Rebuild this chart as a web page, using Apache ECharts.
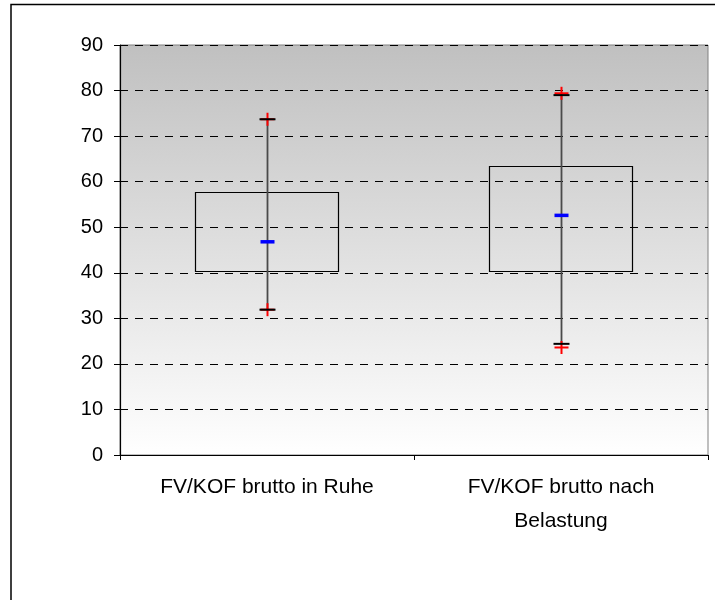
<!DOCTYPE html>
<html>
<head>
<meta charset="utf-8">
<script src="https://cdn.jsdelivr.net/npm/echarts@6/dist/echarts.min.js"></script>
<style>
  html, body { margin: 0; padding: 0; background: #fff; }
  #chart { width: 715px; height: 600px; }
</style>
</head>
<body>
<div id="chart"></div>
<script>
// Categories and summary statistics per group
const categories = ['FV/KOF brutto in Ruhe', 'FV/KOF brutto nach\nBelastung'];
const boxLow = [40.3, 40.3];
const boxHigh = [57.7, 63.4];
const whiskerLow = [31.9, 24.4];
const whiskerHigh = [73.7, 79.0];
const meanValues = [46.8, 52.6];
const minValues = [31.9, 23.6];
const maxValues = [73.7, 79.4];
const yTicks = [0, 10, 20, 30, 40, 50, 60, 70, 80, 90];

const chart = echarts.init(document.getElementById('chart'), null, { renderer: 'canvas' });

const FONT = '"Liberation Sans", Arial, sans-serif';

function idx(arr) { return arr.map((v, i) => [i, v]); }
function rangeData(lo, hi) { return lo.map((v, i) => [i, v, hi[i]]); }

// Rectangle between the two box values
function renderBox(params, api) {
  const i = api.value(0);
  const top = api.coord([i, api.value(2)]);
  const bottom = api.coord([i, api.value(1)]);
  const w = api.size([1, 0])[0] * 0.487;
  return {
    type: 'rect',
    shape: { x: Math.round(top[0] - w / 2) + 0.5, y: Math.round(top[1]) + 0.5, width: Math.round(w), height: Math.round(bottom[1] - top[1]) },
    style: { fill: 'rgba(0,0,0,0)', stroke: '#000', lineWidth: 1.2 }
  };
}

// Vertical whisker line
function renderWhisker(params, api) {
  const i = api.value(0);
  const hi = api.coord([i, api.value(2)]);
  const lo = api.coord([i, api.value(1)]);
  const x = Math.round(hi[0]) + 0.5;
  return {
    type: 'line',
    shape: { x1: x, y1: hi[1], x2: x, y2: lo[1] },
    style: { stroke: '#4a4a4a', lineWidth: 1.8 }
  };
}

// Short black caps at both whisker ends
function renderCaps(params, api) {
  const i = api.value(0);
  const hi = api.coord([i, api.value(2)]);
  const lo = api.coord([i, api.value(1)]);
  const x = Math.round(hi[0]) + 0.5;
  const half = 8;
  return {
    type: 'group',
    children: [
      { type: 'line', shape: { x1: x - half, y1: hi[1], x2: x + half, y2: hi[1] }, style: { stroke: '#000', lineWidth: 2 } },
      { type: 'line', shape: { x1: x - half, y1: lo[1], x2: x + half, y2: lo[1] }, style: { stroke: '#000', lineWidth: 2 } }
    ]
  };
}

// Red plus sign at a value
function renderCross(params, api) {
  const p = api.coord([api.value(0), api.value(1)]);
  const x = Math.round(p[0]) + 0.5;
  return {
    type: 'group',
    children: [
      { type: 'line', shape: { x1: x - 7, y1: p[1], x2: x + 7, y2: p[1] }, style: { stroke: '#ff0000', lineWidth: 2 } },
      { type: 'line', shape: { x1: x, y1: p[1] - 6.5, x2: x, y2: p[1] + 6.5 }, style: { stroke: '#ff0000', lineWidth: 2 } }
    ]
  };
}

// Blue mean dash
function renderMean(params, api) {
  const p = api.coord([api.value(0), api.value(1)]);
  const x = Math.round(p[0]) + 0.5;
  return {
    type: 'line',
    shape: { x1: x - 7, y1: p[1], x2: x + 7, y2: p[1] },
    style: { stroke: '#0000ff', lineWidth: 3.5 }
  };
}

chart.setOption({
  animation: false,
  backgroundColor: '#ffffff',
  textStyle: { fontFamily: FONT },
  graphic: [
    {
      type: 'polyline',
      shape: { points: [[11, 600], [11, 4.5], [715, 4.5]] },
      style: { stroke: '#000', lineWidth: 1.5, fill: null },
      z: 100
    }
  ],
  grid: {
    left: 120, right: 7, top: 45, bottom: 145,
    show: true,
    borderColor: '#808080',
    borderWidth: 1,
    backgroundColor: new echarts.graphic.LinearGradient(0, 0, 0, 1, [
      { offset: 0, color: '#c0c0c0' },
      { offset: 1, color: '#ffffff' }
    ])
  },
  xAxis: {
    type: 'category',
    data: categories,
    boundaryGap: true,
    axisLine: { lineStyle: { color: '#000', width: 1.2 } },
    axisTick: { show: true, length: 5, alignWithLabel: false, lineStyle: { color: '#000' } },
    axisLabel: { color: '#000', fontSize: 21, fontFamily: FONT, margin: 15, lineHeight: 34, interval: 0 },
    splitLine: { show: false }
  },
  yAxis: {
    type: 'value',
    min: 0, max: 90, interval: 10,
    axisLine: { show: true, lineStyle: { color: '#000', width: 1.2 } },
    axisTick: { show: true, length: 6, lineStyle: { color: '#000' } },
    axisLabel: {
      color: '#000', fontSize: 20, fontFamily: FONT, margin: 17,
      formatter: v => (yTicks.indexOf(v) >= 0 ? String(v) : '')
    },
    splitLine: { show: true, lineStyle: { color: '#000', width: 1, type: [8, 7] } }
  },
  series: [
    { type: 'custom', name: 'box', renderItem: renderBox, data: rangeData(boxLow, boxHigh), z: 3 },
    { type: 'custom', name: 'whisker', renderItem: renderWhisker, data: rangeData(whiskerLow, whiskerHigh), z: 4 },
    { type: 'custom', name: 'max', renderItem: renderCross, data: idx(maxValues), z: 5 },
    { type: 'custom', name: 'min', renderItem: renderCross, data: idx(minValues), z: 5 },
    { type: 'custom', name: 'caps', renderItem: renderCaps, data: rangeData(whiskerLow, whiskerHigh), z: 6 },
    { type: 'custom', name: 'mean', renderItem: renderMean, data: idx(meanValues), z: 7 }
  ]
});
</script>
</body>
</html>
